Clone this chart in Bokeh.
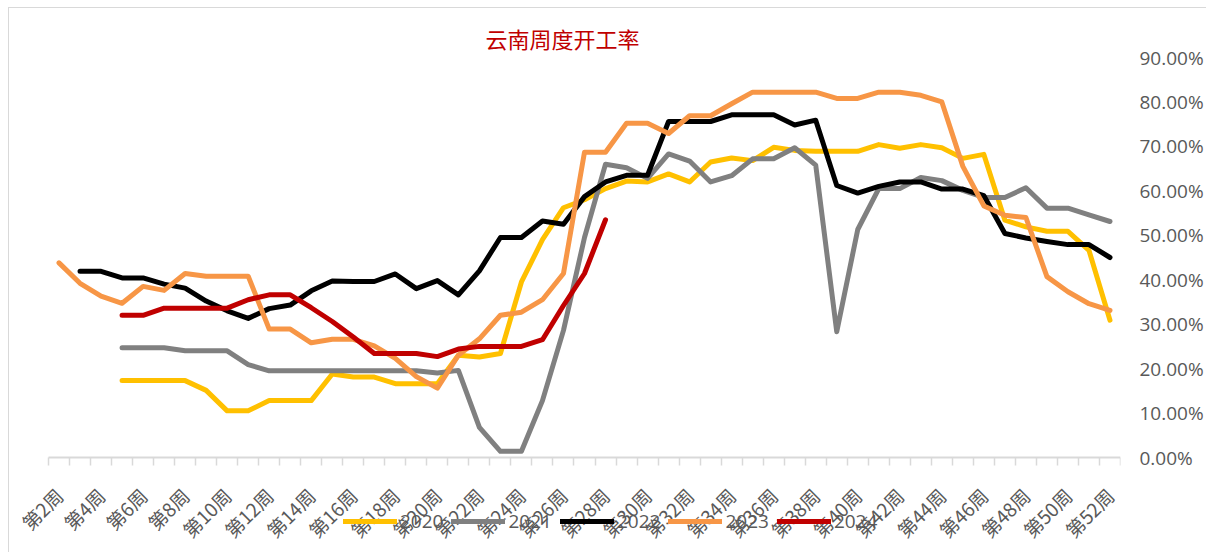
import math
from bokeh.plotting import figure
from bokeh.models import FixedTicker, Range1d, Legend, LegendItem, NumeralTickFormatter
from bokeh.embed import file_html
from bokeh.resources import INLINE

nan = float("nan")

# categories
weeks = [f"第{w}周" for w in range(2, 53)]
series_names = ["2020", "2021", "2022", "2023", "2024"]

# values in percent, weeks 2..52
y2020 = [nan, nan, nan, 17.3, 17.3, 17.3, 17.3, 15.1, 10.5, 10.5,
         12.8, 12.8, 12.8, 18.8, 18.1, 18.1, 16.6, 16.6, 16.6, 23.0,
         22.6, 23.4, 39.5, 49.0, 56.2, 58.0, 60.5, 62.2, 62.0, 63.8,
         62.0, 66.5, 67.4, 66.8, 69.8, 69.1, 68.9, 68.9, 68.9, 70.4,
         69.6, 70.4, 69.7, 67.3, 68.2, 53.4, 51.9, 50.9, 50.9, 46.6,
         30.9]
y2021 = [nan, nan, nan, 24.7, 24.7, 24.7, 24.0, 24.0, 24.0, 20.9,
         19.5, 19.5, 19.5, 19.5, 19.5, 19.5, 19.5, 19.5, 19.0, 19.6,
         6.8, 1.4, 1.4, 12.8, 28.6, 49.5, 66.0, 65.2, 62.8, 68.3,
         66.7, 62.0, 63.4, 67.2, 67.2, 69.7, 65.8, 28.3, 51.3, 60.5,
         60.5, 63.0, 62.3, 60.1, 58.5, 58.5, 60.7, 56.1, 56.1, 54.6,
         53.1]
y2022 = [nan, 41.9, 41.9, 40.4, 40.4, 39.0, 38.1, 35.2, 33.0, 31.3,
         33.5, 34.3, 37.5, 39.7, 39.6, 39.6, 41.3, 38.0, 39.8, 36.6,
         42.0, 49.5, 49.5, 53.2, 52.5, 58.7, 62.0, 63.5, 63.5, 75.6,
         75.6, 75.6, 77.1, 77.1, 77.1, 74.8, 75.9, 61.2, 59.5, 61.0,
         62.0, 62.0, 60.4, 60.4, 58.9, 50.4, 49.4, 48.6, 47.9, 47.9,
         45.0]
y2023 = [43.8, 39.2, 36.3, 34.7, 38.5, 37.6, 41.4, 40.8, 40.8, 40.8,
         28.9, 28.9, 25.8, 26.6, 26.6, 25.1, 22.3, 18.2, 15.6, 23.0,
         26.7, 32.0, 32.7, 35.5, 41.4, 68.7, 68.7, 75.2, 75.2, 72.9,
         76.9, 76.9, 79.6, 82.2, 82.2, 82.2, 82.2, 80.8, 80.8, 82.2,
         82.2, 81.5, 80.0, 65.5, 56.6, 54.5, 54.0, 40.7, 37.3, 34.6,
         33.1]
y2024 = [nan, nan, nan, 32.0, 32.0, 33.6, 33.6, 33.6, 33.6, 35.5,
         36.6, 36.6, 33.7, 30.6, 27.1, 23.4, 23.4, 23.4, 22.7, 24.4,
         25.0, 25.0, 25.0, 26.5, 34.2, 41.4, 53.5, nan, nan, nan,
         nan, nan, nan, nan, nan, nan, nan, nan, nan, nan,
         nan, nan, nan, nan, nan, nan, nan, nan, nan, nan,
         nan]
y_ticks = [0.0, 0.1, 0.2, 0.3, 0.4, 0.5, 0.6, 0.7, 0.8, 0.9]

colors = ["#FFC000", "#808080", "#000000", "#F79646", "#C00000"]
all_series = [y2020, y2021, y2022, y2023, y2024]

n = len(weeks)
xs = list(range(n))

# layout (pixels)
plot_w = 1072          # width of the category area
left_pad = 39          # room left of the first category for its label
plot_h = 400
below_h = 95
unit = plot_w / n
x_start = -0.5 - left_pad / unit
x_end = n - 0.5
y_top = 0.9
y_bottom = -y_top * below_h / plot_h

p = figure(frame_width=plot_w + left_pad, frame_height=plot_h + below_h,
           min_border_left=0, min_border_right=81,
           min_border_top=49, min_border_bottom=0,
           output_backend="svg", toolbar_location=None,
           x_range=Range1d(x_start, x_end), y_range=Range1d(y_bottom, y_top),
           y_axis_location="right",
           margin=(7, 0, 0, 8),
           styles={"border-left": "1px solid #d9d9d9",
                   "border-top": "1px solid #d9d9d9"})

p.title.text = "云南周度开工率"
p.title.align = "left"
p.title.offset = 437 + left_pad
p.title.text_font = "Noto Sans CJK SC"
p.title.text_font_size = "22px"
p.title.text_font_style = "normal"
p.title.text_color = "#C00000"
p.title.standoff = 8

p.xgrid.visible = False
p.ygrid.visible = False
p.outline_line_color = None

# y axis
ya = p.yaxis[0]
ya.ticker = FixedTicker(ticks=y_ticks)
ya.formatter = NumeralTickFormatter(format="0.00%")
ya.axis_line_color = None
ya.major_tick_line_color = None
ya.minor_tick_line_color = None
ya.major_label_text_font = "Open Sans"
ya.major_label_text_font_size = "19px"
ya.major_label_text_color = "#595959"
ya.major_label_standoff = 13

# x axis
xa = p.xaxis[0]
xa.fixed_location = 0
xa.bounds = (-0.5, n - 0.5)
xa.ticker = FixedTicker(ticks=list(range(0, n, 2)),
                        minor_ticks=[i - 0.5 for i in range(n + 1)])
xa.major_label_overrides = {i: weeks[i] for i in range(0, n, 2)}
xa.major_tick_line_color = None
xa.major_tick_out = 8
xa.major_tick_in = 0
xa.minor_tick_out = 8
xa.minor_tick_in = 0
xa.minor_tick_line_color = "#d9d9d9"
xa.minor_tick_line_width = 1.5
xa.axis_line_color = "#d9d9d9"
xa.axis_line_width = 2
xa.major_label_orientation = math.pi / 4
xa.major_label_text_font = "Noto Sans CJK SC"
xa.major_label_text_font_size = "19px"
xa.major_label_text_color = "#595959"
xa.major_label_standoff = 26

items = []
for name, ys, c in zip(series_names, all_series, colors):
    r = p.line(xs, [v / 100 for v in ys], line_color=c, line_width=5,
               line_join="round", line_cap="round")
    items.append(LegendItem(label=name, renderers=[r]))

legend = Legend(items=items, orientation="horizontal",
                location=(295 + left_pad, 18),
                glyph_width=54, glyph_height=20, label_standoff=3, spacing=8,
                padding=0, margin=0, border_line_color=None,
                background_fill_alpha=0,
                label_text_font="Open Sans", label_text_font_size="19px",
                label_text_color="#595959")
p.add_layout(legend, "center")

open("out.html", "w").write(file_html(p, INLINE))
